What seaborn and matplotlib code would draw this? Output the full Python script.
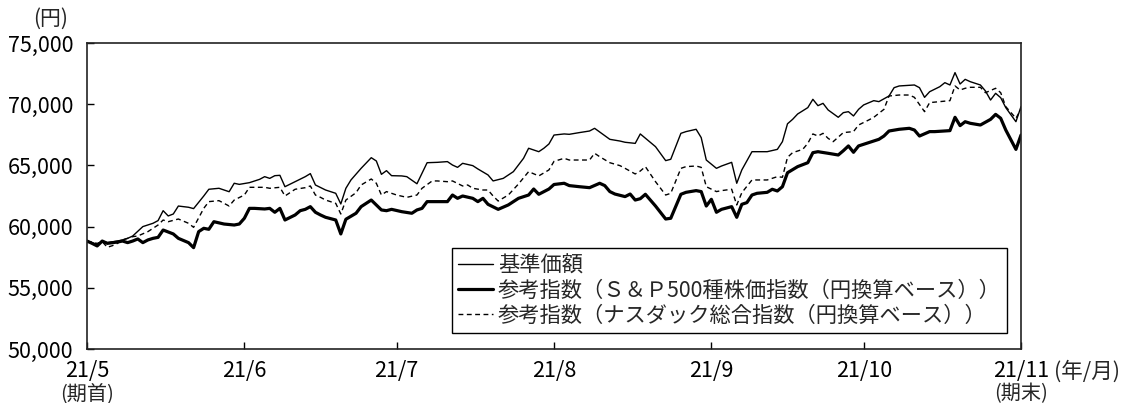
import numpy as np
import pandas as pd
import matplotlib
matplotlib.use("Agg")
import matplotlib.pyplot as plt
import matplotlib.transforms as mtransforms
import seaborn as sns

# ---------------- data ----------------
start_date = "2021-05-01"

fund_name = "基準価額"
fund_days = [0, 2, 3, 4, 6, 7, 8, 9, 11, 13, 14, 15, 16, 17, 18, 20, 21, 23, 24, 26, 28, 29, 30, 32,
             34, 35, 36, 37, 38, 39, 41, 43, 44, 45, 46, 47, 49, 50, 51, 52, 54, 56, 57, 58, 59, 60,
             62, 63, 65, 66, 67, 69, 71, 72, 73, 74, 76, 77, 79, 80, 82, 83, 84, 86, 87, 89, 90, 91,
             92, 94, 95, 97, 99, 100, 103, 105, 106, 108, 109, 112, 114, 115, 117, 118, 120, 121, 122,
             124, 125, 127, 128, 129, 131, 132, 134, 136, 137, 138, 139, 140, 142, 143, 144, 145, 146,
             148, 149, 150, 151, 152, 153, 155, 156, 158, 159, 160, 163, 164, 165, 166, 168, 169, 170,
             171, 172, 173, 174, 176, 177, 178, 179, 180, 181, 183, 184]
fund_values = [58820, 58550, 58820, 58690, 58820, 58910, 59040, 59230, 60000, 60270, 60490, 61300,
               60870, 61030, 61680, 61580, 61470, 62500, 63050, 63130, 62850, 63540, 63450, 63590,
               63860, 64080, 63940, 64160, 64190, 63260, 63670, 64080, 64330, 63400, 63200, 62990,
               62720, 61850, 63130, 63810, 64760, 65630, 65360, 64270, 64570, 64160, 64140, 64080,
               63500, 64350, 65220, 65250, 65310, 65030, 64840, 65170, 64980, 64710, 64220, 63730,
               63940, 64220, 64490, 65580, 66400, 66120, 66400, 66750, 67480, 67570, 67540, 67680,
               67810, 68030, 67130, 66990, 66890, 66800, 67570, 66530, 65390, 65500, 67620, 67760,
               67950, 67270, 65440, 64760, 64950, 65250, 63540, 64630, 66120, 66120, 66120, 66310,
               66940, 68400, 68760, 69200, 69720, 70400, 69880, 70070, 69530, 68930, 69310, 69390,
               69040, 69580, 69940, 70290, 70210, 70670, 71350, 71490, 71570, 71350, 70560, 71020,
               71430, 71760, 71570, 72580, 71650, 72030, 71840, 71570, 71080, 70340, 70890, 70530,
               69720, 68570, 69800]

sp_name = "参考指数（Ｓ＆Ｐ500種株価指数（円換算ベース））"
sp_days = [0, 1, 2, 3, 4, 6, 7, 8, 9, 10, 11, 12, 13, 14, 15, 17, 18, 20, 21, 22, 23, 24, 25, 27,
           29, 30, 31, 32, 33, 35, 36, 37, 38, 39, 41, 42, 43, 44, 45, 46, 47, 49, 50, 51, 53, 54,
           56, 57, 58, 59, 60, 62, 64, 65, 66, 67, 69, 71, 72, 73, 74, 76, 77, 78, 79, 81, 83, 85,
           87, 88, 89, 90, 91, 92, 94, 95, 97, 99, 101, 102, 103, 104, 106, 107, 108, 109, 110, 112,
           114, 115, 117, 118, 120, 121, 122, 123, 124, 125, 127, 128, 129, 130, 131, 132, 134, 135,
           136, 137, 138, 139, 140, 142, 143, 144, 146, 148, 149, 150, 151, 152, 154, 156, 157, 158,
           160, 162, 163, 164, 166, 167, 170, 171, 172, 173, 174, 176, 178, 179, 180, 181, 183, 184]
sp_values = [58820, 58630, 58420, 58820, 58630, 58740, 58820, 58690, 58820, 58990, 58690, 58910,
             59040, 59120, 59720, 59400, 59040, 58690, 58280, 59590, 59860, 59780, 60400, 60210,
             60130, 60210, 60680, 61490, 61490, 61440, 61490, 61170, 61490, 60540, 60950, 61300,
             61410, 61630, 61170, 60950, 60760, 60540, 59400, 60600, 61090, 61630, 62170, 61770,
             61360, 61300, 61410, 61220, 61090, 61360, 61490, 62040, 62040, 62040, 62580, 62310,
             62500, 62310, 62040, 62310, 61820, 61410, 61770, 62310, 62580, 63070, 62640, 62850,
             63070, 63440, 63540, 63350, 63260, 63180, 63540, 63350, 62860, 62660, 62450, 62660,
             62170, 62280, 62640, 61680, 60620, 60680, 62640, 62800, 62940, 62860, 61680, 62230,
             61170, 61410, 61630, 60760, 61820, 61960, 62580, 62720, 62800, 63050, 62910, 63260,
             64400, 64650, 64900, 65220, 66040, 66120, 65990, 65850, 66200, 66590, 66070, 66590,
             66860, 67130, 67400, 67810, 67950, 68030, 67890, 67400, 67760, 67760, 67840, 68930,
             68250, 68570, 68440, 68300, 68760, 69170, 68850, 67890, 66310, 67480]

nq_name = "参考指数（ナスダック総合指数（円換算ベース））"
nq_days = [0, 2, 3, 4, 5, 6, 7, 8, 9, 10, 12, 13, 14, 15, 16, 18, 20, 21, 23, 24, 26, 27, 28, 29,
           31, 32, 34, 35, 36, 38, 39, 41, 43, 44, 45, 46, 47, 49, 50, 51, 53, 54, 56, 57, 58, 59,
           61, 63, 65, 66, 68, 69, 71, 72, 74, 75, 76, 78, 79, 80, 81, 83, 85, 87, 89, 91, 92, 94,
           95, 97, 99, 100, 101, 103, 105, 106, 108, 109, 110, 112, 114, 115, 117, 118, 120, 121,
           122, 124, 125, 127, 128, 129, 131, 132, 134, 136, 137, 138, 139, 141, 142, 143, 144, 145,
           146, 147, 149, 151, 152, 154, 155, 157, 158, 160, 162, 163, 165, 166, 168, 170, 171, 172,
           173, 174, 176, 177, 179, 180, 181, 183, 184]
nq_values = [58820, 58630, 58770, 58310, 58440, 58630, 58910, 59040, 59180, 59230, 59590, 59860,
             60130, 60540, 60400, 60620, 60270, 59940, 61490, 62040, 62120, 61900, 61680, 62170,
             62580, 63210, 63210, 63210, 63130, 63210, 62500, 63050, 63180, 63320, 62580, 62390,
             62170, 61900, 61030, 62170, 62770, 63400, 63890, 63540, 62580, 62860, 62580, 62390,
             62580, 63130, 63730, 63730, 63670, 63730, 63320, 63400, 63130, 62990, 62990, 62500,
             62090, 62580, 63480, 64490, 64140, 64630, 65330, 65580, 65440, 65440, 65440, 65990,
             65710, 65220, 64980, 64760, 64300, 64540, 64900, 63670, 62580, 62720, 64760, 64900,
             64950, 64840, 63260, 62860, 62940, 63050, 61770, 62770, 63810, 63810, 63810, 64080,
             64030, 65660, 66040, 66310, 66800, 67570, 67400, 67620, 67210, 66940, 67680, 67760,
             68300, 68710, 68930, 69580, 70670, 70750, 70750, 70560, 69390, 70130, 70210, 70290,
             71490, 71160, 71300, 71380, 71380, 70940, 71300, 70940, 69800, 68850, 69580]

month_ticks = ["2021-05-01", "2021-06-01", "2021-07-01", "2021-08-01",
               "2021-09-01", "2021-10-01", "2021-11-01"]
month_labels = ["21/5", "21/6", "21/7", "21/8", "21/9", "21/10", "21/11"]
period_start_label = "(期首)"
period_end_label = "(期末)"
y_ticks = [50000, 55000, 60000, 65000, 70000, 75000]

# ---------------- build frames ----------------
t0 = pd.Timestamp(start_date)


def frame(days, values):
    return pd.DataFrame({"date": t0 + pd.to_timedelta(days, unit="D"), "value": values})


df_fund = frame(fund_days, fund_values)
df_sp = frame(sp_days, sp_values)
df_nq = frame(nq_days, nq_values)

# ---------------- style ----------------
sns.set_style("white")
plt.rcParams["font.family"] = ["Noto Sans CJK JP", "DejaVu Sans"]

W, H = 1126, 403
fig = plt.figure(figsize=(W / 100, H / 100), dpi=100)
ax = fig.add_axes([87 / W, 1 - 349 / H, (1021 - 87) / W, (349 - 43) / H])

sns.lineplot(data=df_fund, x="date", y="value", color="black", linewidth=1.0,
             label=fund_name, estimator=None, ax=ax)
sns.lineplot(data=df_sp, x="date", y="value", color="black", linewidth=2.3,
             label=sp_name, estimator=None, ax=ax)
sns.lineplot(data=df_nq, x="date", y="value", color="black", linewidth=1.0,
             label=nq_name, estimator=None, ax=ax)
ax.get_lines()[2].set_dashes([3.5, 2.5])

ax.set_xlim(pd.Timestamp(month_ticks[0]), pd.Timestamp(month_ticks[-1]))
ax.set_ylim(y_ticks[0], y_ticks[-1])
ax.set_xticks(pd.to_datetime(month_ticks))
ax.set_xticklabels(month_labels)
ax.set_yticks(y_ticks)
ax.set_yticklabels([f"{v:,}" for v in y_ticks])
ax.set_xlabel("")
ax.set_ylabel("")

ax.tick_params(axis="both", direction="in", length=5, width=1.0, color="black",
               labelsize=15.5, labelcolor="black")
ax.tick_params(axis="x", pad=8, bottom=True)
ax.tick_params(axis="y", pad=10, left=True)

# second line under the first and last month labels
trans = mtransforms.blended_transform_factory(ax.transData, fig.transFigure)
ax.text(pd.Timestamp(month_ticks[0]), 1 - 393.5 / H, period_start_label, transform=trans,
        ha="center", va="center", fontsize=14.5, clip_on=False)
ax.text(pd.Timestamp(month_ticks[-1]), 1 - 393.5 / H, period_end_label, transform=trans,
        ha="center", va="center", fontsize=14.5, clip_on=False)

for sp in ax.spines.values():
    sp.set_visible(True)
    sp.set_color("#222222")
    sp.set_linewidth(1.2)

leg = ax.legend(loc="lower right", bbox_to_anchor=(0.985, 0.052), borderaxespad=0,
                frameon=True, fancybox=False, edgecolor="black", framealpha=1,
                fontsize=15.3, handlelength=1.65, handletextpad=0.2, labelspacing=0.15,
                borderpad=0.3)
leg.get_frame().set_linewidth(1.0)

fig.text(51 / W, 1 - 19 / H, "(円)", ha="center", va="center", fontsize=15)
fig.text(1054 / W, 1 - 372 / H, "(年/月)", ha="left", va="center", fontsize=15.5)

fig.savefig("out.png", dpi=100)
